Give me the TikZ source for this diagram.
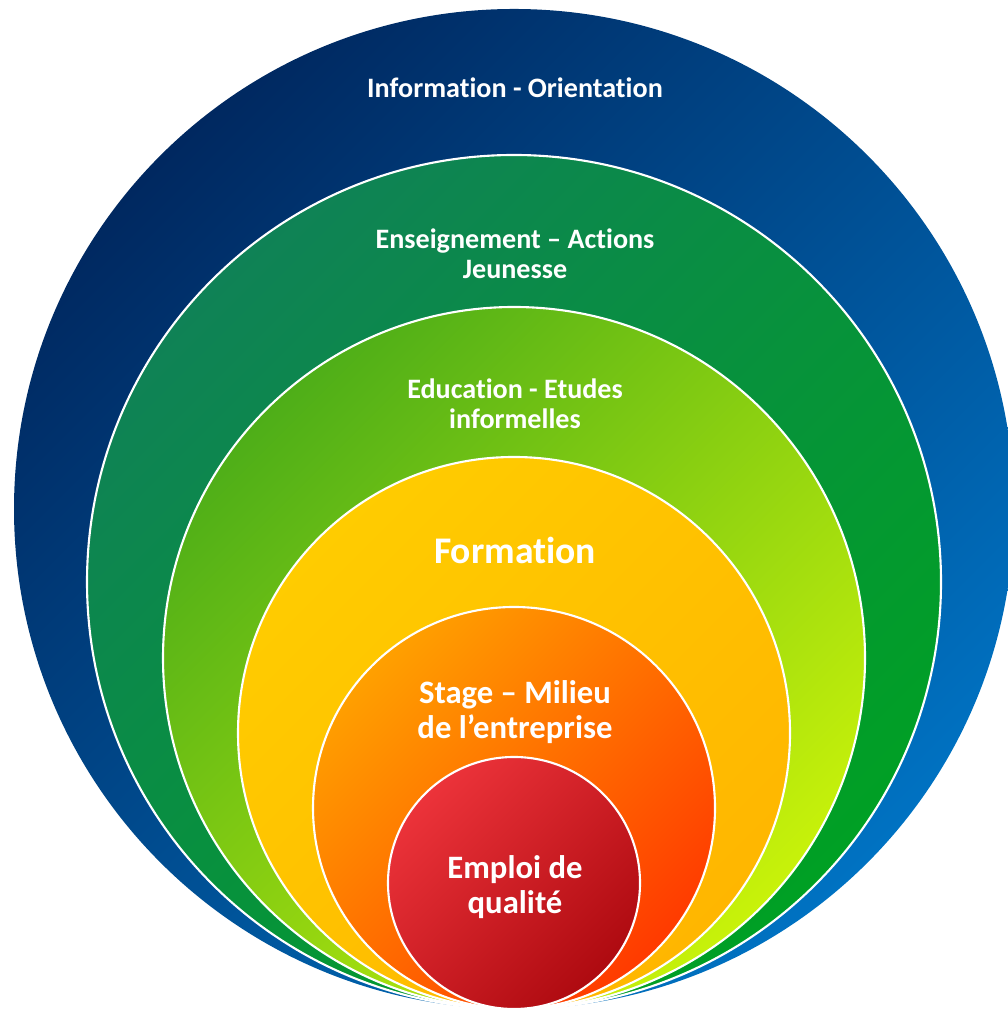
\documentclass[tikz,border=0pt]{standalone}
\usepackage{fontspec}
\setmainfont[RawFeature={-liga;-clig;-calt;-dlig}]{Carlito}
\usepackage{xcolor}
\definecolor{infoA}{HTML}{002860}
\definecolor{infoB}{HTML}{0072C2}
\definecolor{enseA}{HTML}{0F8256}
\definecolor{enseB}{HTML}{00A024}
\definecolor{educA}{HTML}{4EAE18}
\definecolor{educB}{HTML}{C8F20A}
\definecolor{formA}{HTML}{FFCC00}
\definecolor{formB}{HTML}{FFB600}
\definecolor{stagA}{HTML}{FFA000}
\definecolor{stagB}{HTML}{FF3A00}
\definecolor{emplA}{HTML}{EC333A}
\definecolor{emplB}{HTML}{AE0A10}
% one disc, all touching at the bottom point
\newcommand{\circlayer}[3]{
  \shade[top color=#2, bottom color=#3, shading angle=45, layerline] (5.14, {0.02+#1}) circle (#1);
}
\tikzset{
  layerline/.style={draw=white, line width=0.6pt},
  layertext/.style={text=white, align=center, inner sep=0pt},
  smalltxt/.style={layertext, font=\bfseries\fontsize{8}{8.6}\selectfont},
  midtxt/.style={layertext, font=\bfseries\fontsize{9.3}{9.9}\selectfont},
  bigtxt/.style={layertext, font=\bfseries\fontsize{10.7}{11}\selectfont}
}

\begin{document}
\begin{tikzpicture}
  \useasboundingbox (0, 0) rectangle (10.07, 10.11);
  \shade[top color=infoA, bottom color=infoB, shading angle=45] (5.14, 5.02) circle (5);
  \circlayer{4.27}{enseA}{enseB}
  \circlayer{3.51}{educA}{educB}
  \circlayer{2.76}{formA}{formB}
  \circlayer{2.01}{stagA}{stagB}
  \circlayer{1.26}{emplA}{emplB}
  \node[smalltxt] (info) at (5.15, 9.23) {Information - Orientation};
  \node[smalltxt] (ense) at (5.15, 7.57) {Enseignement -- Actions\\Jeunesse};
  \node[smalltxt] (educ) at (5.15, 6.07) {Education - Etudes\\informelles};
  \node[bigtxt] (form) at (5.15, 4.61) {Formation};
  \node[midtxt] (stag) at (5.15, 2.99) {Stage -- Milieu\\de l’entreprise};
  \node[midtxt] (empl) at (5.15, 1.24) {Emploi de\\qualité};
\end{tikzpicture}
\end{document}
